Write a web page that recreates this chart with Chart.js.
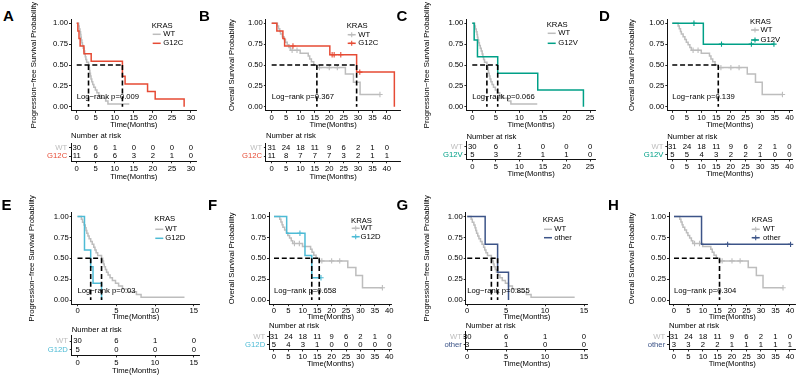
<!DOCTYPE html>
<html><head><meta charset="utf-8">
<script src="https://cdn.jsdelivr.net/npm/chart.js@4.4.1/dist/chart.umd.min.js"></script>
<style>
html,body{margin:0;padding:0;background:#fff;overflow:hidden}
body{width:798px;height:378px;position:relative;font-family:"Liberation Sans",Arial,sans-serif}
canvas{position:absolute}
.lbl{position:absolute;font-weight:bold;font-size:15px;line-height:15px;color:#000;font-family:"Liberation Sans",Arial,sans-serif}
</style></head>
<body>
<script>
// ---------------- DATA ----------------
const ticks15 = [0, 5, 10, 15];
const ticks25 = [0, 5, 10, 15, 20, 25];
const ticks30 = [0, 5, 10, 15, 20, 25, 30];
const ticks40 = [0, 5, 10, 15, 20, 25, 30, 35, 40];
const yTickVals = [0, 0.25, 0.5, 0.75, 1];
const yTickLabels = ['0.00', '0.25', '0.50', '0.75', '1.00'];
const groups = ['WT', 'G12C', 'G12V', 'G12D', 'other'];

// WT progression-free survival (step times / survival after step)
const wtPfsTime = [0, 0.5, 0.65, 0.85, 1.0, 1.1, 1.2, 1.35, 1.5, 1.7, 1.9, 2.1, 2.25, 2.4, 2.6, 3.1, 3.25, 3.35, 3.45, 3.6, 3.75, 3.95, 4.2, 4.5, 4.9, 5.3, 5.8, 6.5, 7.6, 8.2, 13.8];
const wtPfsSurv = [1, 0.967, 0.933, 0.9, 0.867, 0.833, 0.8, 0.767, 0.733, 0.7, 0.667, 0.633, 0.6, 0.567, 0.533, 0.5, 0.467, 0.433, 0.4, 0.367, 0.333, 0.3, 0.267, 0.233, 0.2, 0.167, 0.133, 0.1, 0.067, 0.033, 0.033];
// WT overall survival
const wtOsTime = [0, 2.0, 2.4, 2.8, 3.1, 3.7, 4.3, 4.8, 5.4, 6.0, 6.5, 9.9, 12.7, 13.2, 13.8, 14.6, 15.7, 25.6, 28.4, 30.7, 37.6];
const wtOsSurv = [1, 0.968, 0.935, 0.903, 0.871, 0.839, 0.806, 0.774, 0.742, 0.710, 0.677, 0.642, 0.607, 0.573, 0.538, 0.504, 0.469, 0.391, 0.293, 0.147, 0.147];
const wtOsCensor = [7.1, 8.8, 16.6, 20.0, 22.8, 37.6];

const g12cPfsTime = [0, 0.3, 0.6, 0.9, 1.9, 3.8, 12.0, 12.7, 18.6, 20.6, 28.2];
const g12cPfsSurv = [1, 0.909, 0.818, 0.727, 0.636, 0.545, 0.364, 0.273, 0.182, 0.091, 0];
const g12cOsTime = [0, 1.8, 3.9, 4.5, 20.2, 29.5, 42.6];
const g12cOsSurv = [1, 0.909, 0.818, 0.727, 0.623, 0.415, 0];
const g12cOsCensor = [7.4, 21.0, 21.7, 24.0, 30.6];

const g12vPfsTime = [0, 0.4, 1.1, 5.4, 13.9, 23.6];
const g12vPfsSurv = [1, 0.8, 0.6, 0.4, 0.2, 0];
const g12vOsTime = [0, 10.6, 34.7];
const g12vOsSurv = [1, 0.75, 0.75];
const g12vOsCensor = [7.4, 16.8, 27.0, 34.7];

const g12dPfsTime = [0, 0.9, 1.7, 2.0, 3.1];
const g12dPfsSurv = [1, 0.6, 0.4, 0.2, 0];
const g12dOsTime = [0, 4.4, 10.75, 13.1, 16.3];
const g12dOsSurv = [1, 0.8, 0.533, 0.267, 0.267];
const g12dOsCensor = [9.0, 16.3];

const otherPfsTime = [0, 2.3, 3.9, 5.3];
const otherPfsSurv = [1, 0.667, 0.333, 0];
const otherOsTime = [0, 9.5, 40.2];
const otherOsSurv = [1, 0.667, 0.667];
const otherOsCensor = [18.5, 40.2];

// numbers at risk (at 0,5,10,...)
const wtPfsRisk = [30, 6, 1, 0, 0, 0, 0];
const wtOsRisk = [31, 24, 18, 11, 9, 6, 2, 1, 0];
const g12cPfsRisk = [11, 6, 6, 3, 2, 1, 0];
const g12cOsRisk = [11, 8, 7, 7, 7, 3, 2, 1, 1];
const g12vPfsRisk = [5, 3, 2, 1, 1, 0];
const g12vOsRisk = [5, 5, 4, 3, 2, 2, 1, 0, 0];
const g12dPfsRisk = [5, 0, 0, 0];
const g12dOsRisk = [5, 4, 3, 1, 0, 0, 0, 0, 0];
const otherPfsRisk = [3, 1, 0, 0];
const otherOsRisk = [3, 3, 2, 2, 1, 1, 1, 1, 1];

const pValues = ['0.009', '0.367', '0.066', '0.139', '0.03', '0.658', '0.855', '0.304'];
const medA = [3.1, 12.0];
const medB = [15.7, 29.5];
const medC = [3.1, 5.4];
const medD = [15.7];
const medE = [1.7, 3.1];
const medF = [13.1, 15.7];
const medG = [3.1, 3.9];
const medH = [15.7];

// ---------------- STYLE / LAYOUT ----------------
const FONT = '"Liberation Sans", Arial, sans-serif';
const FS = 7.7;
const LH = FS * 1.2;
const TXT = '#000';
const colWT = '#BDBDBD', colG12C = '#E64B35', colG12V = '#00A087', colG12D = '#4DBBD5', colOther = '#3C5488';
const PFS_TITLE = 'Progression\u2212free Survival Probability';
const OS_TITLE = 'Overall Survival Probability';
const CURVE_W = 1.5, DASH_W = 1.6;

const topTblAB = {tTop: 143.0, tBot: 161.3, ttY: 176.5, nY: 136};
const topTblCD = {tTop: 141.9, tBot: 159.5, ttY: 174.2, nY: 136.7};
const botTblE = {tTop: 335.6, tBot: 355.4, ttY: 371, nY: 330};
const botTblFGH = {tTop: 331.9, tBot: 349.5, ttY: 364, nY: 325.5};
const topMain = {row: 0, mTop: 19.13, mBot: 110.87, xtY: 124.8};
const botMain = {row: 1, mTop: 212.4, mBot: 304.2, xtY: 316.7};

const panels = [
  {letter: 'A', lx: 3, ly: 7.5, os: false, mut: groups[1], col: colG12C, wtT: wtPfsTime, wtS: wtPfsSurv, wtC: [], mT: g12cPfsTime, mS: g12cPfsSurv, mC: [], ticks: ticks30, wtRisk: wtPfsRisk, mRisk: g12cPfsRisk, p: pValues[0], med: medA,
   geo: Object.assign({xmin: -1.5, xmax: 31.5, ax: 71.0, ar: 196.7, ytX: 33.5, leg: {x: 151.7, yT: 26, y1: 34.3, y2: 43.3, kx: 152.7, tx: 163.3}}, topMain, topTblAB)},
  {letter: 'B', lx: 199, ly: 8, os: true, mut: groups[1], col: colG12C, wtT: wtOsTime, wtS: wtOsSurv, wtC: wtOsCensor, mT: g12cOsTime, mS: g12cOsSurv, mC: g12cOsCensor, ticks: ticks40, wtRisk: wtOsRisk, mRisk: g12cOsRisk, p: pValues[1], med: medB,
   geo: Object.assign({xmin: -2.0, xmax: 44.7, ax: 265.9, ar: 400.4, ytX: 232, leg: {x: 346.7, yT: 26, y1: 34.7, y2: 43.3, kx: 347.7, tx: 358.3}}, topMain, topTblAB)},
  {letter: 'C', lx: 396.5, ly: 8, os: false, mut: groups[2], col: colG12V, wtT: wtPfsTime, wtS: wtPfsSurv, wtC: [], mT: g12vPfsTime, mS: g12vPfsSurv, mC: [], ticks: ticks25, wtRisk: wtPfsRisk, mRisk: g12vPfsRisk, p: pValues[2], med: medC,
   geo: Object.assign({xmin: -1.25, xmax: 26.25, ax: 466.4, ar: 595.9, ytX: 427, leg: {x: 546.7, yT: 25, y1: 33.3, y2: 43.3, kx: 547.7, tx: 558.3}}, topMain, topTblCD)},
  {letter: 'D', lx: 599, ly: 8, os: true, mut: groups[2], col: colG12V, wtT: wtOsTime, wtS: wtOsSurv, wtC: wtOsCensor, mT: g12vOsTime, mS: g12vOsSurv, mC: g12vOsCensor, ticks: ticks40, wtRisk: wtOsRisk, mRisk: g12vOsRisk, p: pValues[3], med: medD,
   geo: Object.assign({xmin: -1.7, xmax: 40.9, ax: 667.3, ar: 792.1, ytX: 631.7, leg: {x: 750, yT: 21.7, y1: 30, y2: 40, kx: 751, tx: 760.5}}, topMain, topTblCD)},
  {letter: 'E', lx: 1.5, ly: 196.5, os: false, mut: groups[3], col: colG12D, wtT: wtPfsTime, wtS: wtPfsSurv, wtC: [], mT: g12dPfsTime, mS: g12dPfsSurv, mC: [], ticks: ticks15, wtRisk: wtPfsRisk, mRisk: g12dPfsRisk, p: pValues[4], med: medE,
   geo: Object.assign({xmin: -0.75, xmax: 15.75, ax: 71.7, ar: 199.6, ytX: 31.7, leg: {x: 154.3, yT: 219, y1: 229.3, y2: 238.3, kx: 155.3, tx: 165.3}}, botMain, botTblE)},
  {letter: 'F', lx: 208, ly: 196.5, os: true, mut: groups[3], col: colG12D, wtT: wtOsTime, wtS: wtOsSurv, wtC: wtOsCensor, mT: g12dOsTime, mS: g12dOsSurv, mC: g12dOsCensor, ticks: ticks40, wtRisk: wtOsRisk, mRisk: g12dOsRisk, p: pValues[5], med: medF,
   geo: Object.assign({xmin: -1.73, xmax: 40.9, ax: 269, ar: 391.9, ytX: 232, leg: {x: 351, yT: 220.7, y1: 228.3, y2: 236.7, kx: 351.7, tx: 360.5}}, botMain, botTblFGH)},
  {letter: 'G', lx: 396.5, ly: 196.5, os: false, mut: groups[4], col: colOther, wtT: wtPfsTime, wtS: wtPfsSurv, wtC: [], mT: otherPfsTime, mS: otherPfsSurv, mC: [], ticks: ticks15, wtRisk: wtPfsRisk, mRisk: otherPfsRisk, p: pValues[6], med: medG,
   geo: Object.assign({xmin: -0.2, xmax: 15.5, ax: 465.7, ar: 587.9, ytX: 426.7, leg: {x: 542.7, yT: 220, y1: 229.3, y2: 237.7, kx: 544, tx: 554.3}}, botMain, botTblFGH)},
  {letter: 'H', lx: 608, ly: 197, os: true, mut: groups[4], col: colOther, wtT: wtOsTime, wtS: wtOsSurv, wtC: wtOsCensor, mT: otherOsTime, mS: otherOsSurv, mC: otherOsCensor, ticks: ticks40, wtRisk: wtOsRisk, mRisk: otherOsRisk, p: pValues[7], med: medH,
   geo: Object.assign({xmin: -1.72, xmax: 41.9, ax: 669, ar: 795.5, ytX: 632, leg: {x: 751.7, yT: 220, y1: 229.3, y2: 237.7, kx: 751.7, tx: 763}}, botMain, botTblFGH)}
];

// ---------------- HELPERS ----------------
function makeCanvas(l, t, w, h) {
  const c = document.createElement('canvas');
  c.width = w; c.height = h;
  c.style.left = l + 'px'; c.style.top = t + 'px';
  c.style.width = w + 'px'; c.style.height = h + 'px';
  document.body.appendChild(c);
  return c;
}
function pts(times, surv) { return times.map((t, i) => ({x: t, y: surv[i]})); }
function survAt(times, surv, t) {
  let s = surv[0];
  for (let i = 0; i < times.length; i++) if (times[i] <= t) s = surv[i];
  return s;
}
function censorPts(times, surv, cens) { return cens.map(t => ({x: t, y: survAt(times, surv, t)})); }
const font = {family: FONT, size: FS};

function axisX(g, ticks, xH, titleOn) {
  return {
    type: 'linear', min: g.xmin, max: g.xmax,
    afterBuildTicks: s => { s.ticks = ticks.map(v => ({value: v})); },
    afterFit: s => { s.height = xH; },
    ticks: {font, color: TXT, padding: 0.5, maxRotation: 0, autoSkip: false, callback: v => String(v)},
    grid: {drawOnChartArea: false, drawTicks: true, tickLength: 2, color: '#111', lineWidth: 0.9},
    border: {display: true, color: '#111', width: 1},
    title: {display: titleOn, text: 'Time(Months)', font, color: TXT, padding: 0}
  };
}

function drawCross(ctx, x, y, r, col) {
  ctx.strokeStyle = col; ctx.lineWidth = 1.1;
  ctx.beginPath(); ctx.moveTo(x - r, y); ctx.lineTo(x + r, y); ctx.moveTo(x, y - r); ctx.lineTo(x, y + r); ctx.stroke();
}

function mainChart(P) {
  const g = P.geo;
  const cl = Math.floor(g.ytX - 8), ct = g.row === 0 ? 0 : 190;
  const cr = Math.ceil(g.ar + 6), cb = Math.ceil(g.xtY + 7);
  const cv = makeCanvas(cl, ct, cr - cl, cb - ct);
  const padL = g.ytX - LH / 2 - cl;
  const yW = g.ax - cl - padL;
  const padT = g.mTop - ct;
  const xH = g.xtY + LH / 2 - g.mBot;
  const padB = cb - (g.xtY + LH / 2);
  const padR = cr - g.ar;
  const mx = Math.max(...P.med);
  const ds = [];
  ds.push({data: [{x: 0, y: 0.5}, {x: mx, y: 0.5}], borderColor: '#000', borderWidth: DASH_W, borderDash: [5, 2.8], pointRadius: 0});
  P.med.forEach(m => ds.push({data: [{x: m, y: 0.5}, {x: m, y: 0}], borderColor: '#000', borderWidth: DASH_W, borderDash: [5, 2.8], pointRadius: 0}));
  if (P.mC.length) ds.push({data: censorPts(P.mT, P.mS, P.mC), showLine: false, pointStyle: 'cross', pointRadius: 2.7, borderColor: P.col, borderWidth: 1.1});
  ds.push({data: pts(P.mT, P.mS), stepped: true, borderColor: P.col, borderWidth: CURVE_W, pointRadius: 0});
  if (P.wtC.length) ds.push({data: censorPts(P.wtT, P.wtS, P.wtC), showLine: false, pointStyle: 'cross', pointRadius: 2.7, borderColor: colWT, borderWidth: 1.1});
  ds.push({data: pts(P.wtT, P.wtS), stepped: true, borderColor: colWT, borderWidth: CURVE_W, pointRadius: 0});

  const overlay = {
    id: 'overlay' + P.letter,
    afterDraw(chart) {
      const ctx = chart.ctx, xs = chart.scales.x, ys = chart.scales.y;
      ctx.save();
      ctx.font = FS + 'px ' + FONT;
      ctx.fillStyle = TXT; ctx.textBaseline = 'middle'; ctx.textAlign = 'left';
      ctx.fillText('Log\u2212rank p=' + P.p, xs.getPixelForValue(0), ys.getPixelForValue(0.115));
      const L = g.leg;
      ctx.fillText('KRAS', L.x - cl, L.yT - ct);
      [[groups[0], colWT, L.y1], [P.mut, P.col, L.y2]].forEach(([name, col, y]) => {
        ctx.strokeStyle = col; ctx.lineWidth = CURVE_W;
        ctx.beginPath(); ctx.moveTo(L.kx - cl, y - ct); ctx.lineTo(L.kx + 8 - cl, y - ct); ctx.stroke();
        if (P.os) drawCross(ctx, L.kx + 4 - cl, y - ct, 2.5, col);
        ctx.fillStyle = TXT;
        ctx.fillText(name, L.tx - cl, y - ct);
      });
      ctx.restore();
    }
  };

  new Chart(cv, {
    type: 'line',
    data: {datasets: ds},
    options: {
      responsive: false, animation: false, devicePixelRatio: 1, events: [],
      layout: {padding: {left: padL, top: padT, right: padR, bottom: padB}},
      plugins: {legend: {display: false}, tooltip: {enabled: false}},
      scales: {
        x: axisX(g, P.ticks, xH, true),
        y: {
          type: 'linear', min: -0.05, max: 1.05,
          afterBuildTicks: s => { s.ticks = yTickVals.map(v => ({value: v})); },
          afterFit: s => { s.width = yW; },
          ticks: {font, color: TXT, padding: 1, callback: (v, i) => yTickLabels[i]},
          grid: {drawOnChartArea: false, drawTicks: true, tickLength: 2, color: '#111', lineWidth: 0.9},
          border: {display: true, color: '#111', width: 1},
          title: {display: true, text: P.os ? OS_TITLE : PFS_TITLE, font, color: TXT, padding: 0}
        }
      }
    },
    plugins: [overlay]
  });
}

function tableChart(P) {
  const g = P.geo;
  const cl = Math.floor(g.ytX - 8);
  const ct = Math.floor(g.nY - 7), cb = Math.ceil(g.ttY + 7);
  const cr = Math.ceil(g.ar + 6);
  const cv = makeCanvas(cl, ct, cr - cl, cb - ct);
  const yW = g.ax - cl;
  const padT = g.tTop - ct;
  const xH = g.ttY + LH / 2 - g.tBot;
  const padB = cb - (g.ttY + LH / 2);
  const padR = cr - g.ar;
  const names = [groups[0], P.mut];
  const overlay = {
    id: 'risk' + P.letter,
    afterDraw(chart) {
      const ctx = chart.ctx, xs = chart.scales.x, ys = chart.scales.y;
      ctx.save();
      ctx.font = FS + 'px ' + FONT;
      ctx.fillStyle = TXT; ctx.textBaseline = 'middle'; ctx.textAlign = 'center';
      P.ticks.forEach((t, i) => {
        const x = xs.getPixelForValue(t);
        ctx.fillText(String(P.wtRisk[i]), x, ys.getPixelForValue(1));
        ctx.fillText(String(P.mRisk[i]), x, ys.getPixelForValue(2));
      });
      ctx.textAlign = 'left';
      ctx.fillText('Number at risk', chart.chartArea.left, g.nY - ct);
      ctx.restore();
    }
  };
  new Chart(cv, {
    type: 'scatter',
    data: {datasets: []},
    options: {
      responsive: false, animation: false, devicePixelRatio: 1, events: [],
      layout: {padding: {left: 0, top: padT, right: padR, bottom: padB}},
      plugins: {legend: {display: false}, tooltip: {enabled: false}},
      scales: {
        x: axisX(g, P.ticks, xH, true),
        y: {
          type: 'linear', min: 0.4, max: 2.6, reverse: true,
          afterBuildTicks: s => { s.ticks = [{value: 1}, {value: 2}]; },
          afterFit: s => { s.width = yW; },
          ticks: {font, padding: 1.8, callback: (v, i) => names[i],
                  color: c => (c.tick && c.tick.value === 2) ? P.col : colWT},
          grid: {drawOnChartArea: false, drawTicks: true, tickLength: 2, color: '#111', lineWidth: 0.9},
          border: {display: true, color: '#111', width: 1}
        }
      }
    },
    plugins: [overlay]
  });
}

panels.forEach(P => {
  const d = document.createElement('div');
  d.className = 'lbl'; d.textContent = P.letter;
  d.style.left = P.lx + 'px'; d.style.top = P.ly + 'px';
  document.body.appendChild(d);
  mainChart(P);
  tableChart(P);
});
</script>
</body></html>
